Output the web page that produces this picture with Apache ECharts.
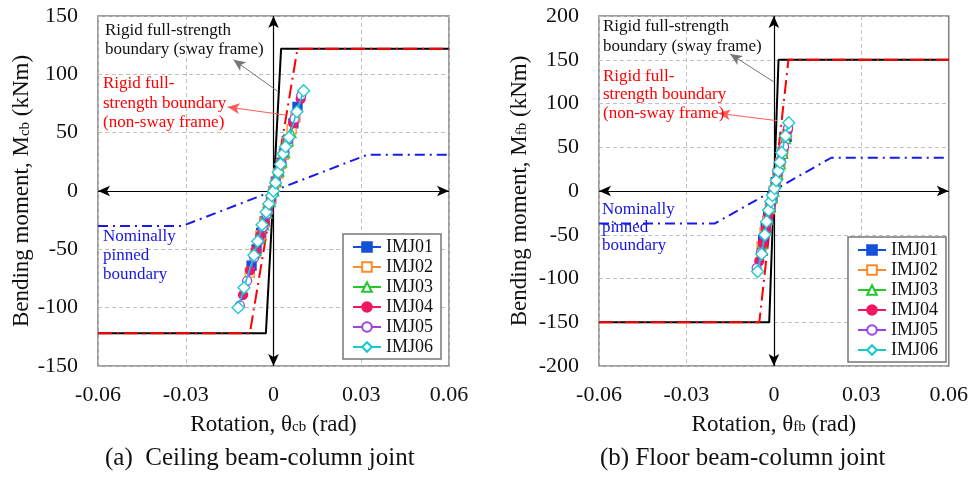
<!DOCTYPE html>
<html><head><meta charset="utf-8">
<script src="https://cdn.jsdelivr.net/npm/echarts@6/dist/echarts.min.js"></script>
<style>html,body{margin:0;padding:0;background:#fff}#c{width:971px;height:477px}</style>
</head><body><div id="c"></div>
<script>
// ---------- data ----------
const xTicks = [-0.06, -0.03, 0, 0.03, 0.06];
const seriesNames = ['IMJ01','IMJ02','IMJ03','IMJ04','IMJ05','IMJ06'];

// (a) ceiling joint: boundaries [rotation, moment]
const ceilSway    = [[-0.06,-122],[-0.0026,-122],[0.0026,122],[0.06,122]];
const ceilNonSway = [[-0.06,-122],[-0.0081,-122],[0.0082,122],[0.06,122]];
const ceilPinned  = [[-0.06,-30],[-0.0312,-30],[0.032,31],[0.06,31]];
// (a) specimens
const ceilIMJ01 = [[-0.0075,-64],[-0.0058,-50],[-0.0042,-36],[-0.0030,-26],[-0.0018,-15],[-0.0008,-7],[0,0],[0.0008,8],[0.0017,16],[0.0026,24],[0.0036,32],[0.0050,44],[0.0068,58],[0.0082,72]];
const ceilIMJ02 = [[-0.0081,-70],[-0.0062,-53],[-0.0045,-38],[-0.0032,-27],[-0.0020,-16],[-0.0009,-7],[0,0],[0.0007,7],[0.0016,15],[0.0025,23],[0.0035,31],[0.0048,42],[0.0062,53],[0.0075,63]];
const ceilIMJ03 = [[-0.0060,-51],[-0.0047,-40],[-0.0034,-29],[-0.0022,-19],[-0.0011,-9],[0,0],[0.0009,9],[0.0018,17],[0.0028,25],[0.0038,33],[0.0050,43],[0.0060,50]];
const ceilIMJ04 = [[-0.0104,-89],[-0.0080,-68],[-0.0060,-51],[-0.0045,-38],[-0.0031,-27],[-0.0019,-16],[-0.0008,-7],[0,0],[0.0008,8],[0.0017,16],[0.0027,24],[0.0037,33],[0.0050,44],[0.0068,58],[0.0093,79]];
const ceilIMJ05 = [[-0.0115,-98],[-0.0090,-77],[-0.0066,-57],[-0.0050,-43],[-0.0037,-31],[-0.0024,-20],[-0.0012,-10],[0,0],[0.0008,8],[0.0017,16],[0.0026,24],[0.0036,32],[0.0050,44],[0.0072,62],[0.0095,82]];
const ceilIMJ06 = [[-0.0121,-100],[-0.0101,-83],[-0.0067,-55],[-0.0054,-43],[-0.0039,-29],[-0.0025,-18],[-0.0016,-11],[-0.0006,-4],[0,0],[0.0007,7],[0.0016,16],[0.0024,23],[0.0033,32],[0.0041,38],[0.0053,46],[0.0080,68],[0.0103,86]];

// (b) floor joint: boundaries
const floorSway    = [[-0.06,-150],[-0.0016,-150],[0.0016,150],[0.06,150]];
const floorNonSway = [[-0.06,-150],[-0.0050,-150],[0.0050,150],[0.06,150]];
const floorPinned  = [[-0.06,-37],[-0.0202,-37],[0.0197,38],[0.06,38]];
// (b) specimens
const floorIMJ01 = [[-0.0037,-56],[-0.0028,-42],[-0.0020,-30],[-0.0012,-18],[-0.0005,-7],[0,0],[0.0006,10],[0.0013,20],[0.0021,31],[0.0030,44],[0.0044,62]];
const floorIMJ02 = [[-0.0042,-63],[-0.0032,-47],[-0.0023,-34],[-0.0014,-21],[-0.0006,-9],[0,0],[0.0006,9],[0.0014,20],[0.0022,32],[0.0032,46],[0.0045,65]];
const floorIMJ03 = [[-0.0040,-60],[-0.0030,-45],[-0.0021,-32],[-0.0012,-18],[-0.0005,-7],[0,0],[0.0006,9],[0.0013,19],[0.0021,31],[0.0030,43],[0.0040,60]];
const floorIMJ04 = [[-0.0050,-80],[-0.0038,-60],[-0.0028,-44],[-0.0018,-28],[-0.0009,-14],[0,0],[0.0007,11],[0.0014,21],[0.0022,33],[0.0033,48],[0.0048,70]];
const floorIMJ05 = [[-0.0059,-88],[-0.0044,-70],[-0.0032,-51],[-0.0022,-35],[-0.0012,-19],[-0.0004,-6],[0,0],[0.0007,11],[0.0015,22],[0.0023,34],[0.0035,51],[0.0049,72]];
const floorIMJ06 = [[-0.0056,-92],[-0.0042,-72],[-0.0031,-50],[-0.0025,-35],[-0.0018,-22],[-0.0011,-12],[-0.0005,-5],[0.0002,3],[0.0008,12],[0.0015,23],[0.0021,33],[0.0027,44],[0.0040,63],[0.0051,78]];

// ---------- styles ----------
const FONT = '"Liberation Serif", "DejaVu Serif", serif';
const specStyle = [
  {color:'#1450d8', symbol:'rect', fill:'#1450d8'},
  {color:'#ff8a2a', symbol:'rect', fill:'#fff'},
  {color:'#22c72a', symbol:'triangle', fill:'#fff'},
  {color:'#f01860', symbol:'circle', fill:'#f01860'},
  {color:'#9a44e0', symbol:'circle', fill:'#fff'},
  {color:'#18c8cc', symbol:'diamond', fill:'#fff'}
];

const chart = echarts.init(document.getElementById('c'), null, {renderer:'canvas'});

function xAxisFor(gi, sub){
  return {
    type:'value', gridIndex:gi, min:-0.06, max:0.06, interval:0.03,
    axisLine:{show:false}, axisTick:{show:false},
    axisLabel:{fontFamily:FONT, fontSize:22, color:'#111', margin:18,
      formatter:v=>Math.abs(v)<1e-9?'0':v.toFixed(2)},
    splitLine:{show:true, lineStyle:{color:'#c0c0c0', type:[4,3], width:1}},
    name:'Rotation, θ{s|'+sub+'} (rad)', nameLocation:'middle', nameGap:47,
    nameTextStyle:{fontFamily:FONT, fontSize:23, color:'#111',
      rich:{s:{fontFamily:FONT, fontSize:15, color:'#111', padding:[6,0,0,0]}}}
  };
}
function yAxisFor(gi, lim, sub, gap){
  return {
    type:'value', gridIndex:gi, min:-lim, max:lim, interval:50,
    axisLine:{show:false}, axisTick:{show:false},
    axisLabel:{fontFamily:FONT, fontSize:22, color:'#111', margin:20},
    splitLine:{show:true, lineStyle:{color:'#c0c0c0', type:[4,3], width:1}},
    name:'Bending moment, M{s|'+sub+'} (kNm)', nameLocation:'middle', nameGap:gap,
    nameTextStyle:{fontFamily:FONT, fontSize:23, color:'#111',
      rich:{s:{fontFamily:FONT, fontSize:15, color:'#111', padding:[6,0,0,0]}}}
  };
}

function boundarySeries(gi, sway, nonsway, pinned, lim, grayArrow, redArrow){
  return [
    {name:'sway', type:'line', xAxisIndex:gi, yAxisIndex:gi, data:sway, showSymbol:false, symbol:'none',
     lineStyle:{color:'#000', width:2}, z:3,
     markLine:{silent:true, animation:false, symbolSize:[8,12], label:{show:false},
       lineStyle:{color:'#000', width:1.2, type:'solid'},
       data:[
         [{coord:[-0.06,0], symbol:'arrow'},{coord:[0.06,0], symbol:'arrow'}],
         [{coord:[0,-lim], symbol:'arrow'},{coord:[0,lim], symbol:'arrow'}],
         [{coord:grayArrow[0], symbol:'none', lineStyle:{color:'#777', width:1}},{coord:grayArrow[1], symbol:'arrow', lineStyle:{color:'#777', width:1}}],
         [{coord:redArrow[0], symbol:'none', lineStyle:{color:'#ff5a5a', width:1}},{coord:redArrow[1], symbol:'arrow', lineStyle:{color:'#ff5a5a', width:1}}]
       ]}},
    {name:'nonsway', type:'line', xAxisIndex:gi, yAxisIndex:gi, data:nonsway, showSymbol:false, symbol:'none',
     lineStyle:{color:'#ff0000', width:2, type:[14,5,2,5]}, z:4},
    {name:'pinned', type:'line', xAxisIndex:gi, yAxisIndex:gi, data:pinned, showSymbol:false, symbol:'none',
     lineStyle:{color:'#1a1ae6', width:2, type:[10,5,2,5]}, z:4}
  ];
}
function specSeries(gi, arrs){
  return arrs.map((d,i)=>({
    name:seriesNames[i], type:'line', xAxisIndex:gi, yAxisIndex:gi, data:d,
    symbol:specStyle[i].symbol, symbolSize:specStyle[i].symbol==='diamond'?12:(specStyle[i].symbol==='triangle'?10:9),
    showAllSymbol:true,
    lineStyle:{color:specStyle[i].color, width:1.6},
    itemStyle:{color:specStyle[i].fill, borderColor:specStyle[i].color, borderWidth:1.3},
    z:5+i
  }));
}

function legendAt(left, top){
  return {
    data:seriesNames, orient:'vertical', left:left, top:top,
    itemWidth:28, itemHeight:12, itemGap:2, padding:[4,8,3,9],
    textStyle:{fontFamily:FONT, fontSize:18, color:'#111'},
    borderColor:'#777', borderWidth:1.5, backgroundColor:'#fff', selectedMode:false
  };
}

function txt(x, y, lines, color, lh){
  return {type:'text', left:x, top:y, z:50,
    style:{text:lines.join('\n'), fill:color, font:'17px '+FONT, lineHeight:lh}};
}

chart.setOption({
  animation:false,
  backgroundColor:'#fff',
  grid:[
    {left:98, top:16, width:351, height:350, show:true, borderColor:'#808080', borderWidth:1.5, backgroundColor:'transparent'},
    {left:599, top:16, width:351, height:350, show:true, borderColor:'#808080', borderWidth:1.5, backgroundColor:'transparent'}
  ],
  xAxis:[xAxisFor(0,'cb'), xAxisFor(1,'fb')],
  yAxis:[yAxisFor(0,150,'cb',64), yAxisFor(1,200,'fb',68)],
  legend:[legendAt(343,234), legendAt(848,237)],
  series:[
    ...boundarySeries(0, ceilSway, ceilNonSway, ceilPinned, 150,
        [[0.0013,85.7],[-0.0137,112.5]], [[0.0044,65],[-0.0157,72]]),
    ...specSeries(0, [ceilIMJ01,ceilIMJ02,ceilIMJ03,ceilIMJ04,ceilIMJ05,ceilIMJ06]),
    ...boundarySeries(1, floorSway, floorNonSway, floorPinned, 200,
        [[0.0,124.6],[-0.015,156.6]], [[0.0013,80.3],[-0.0191,88.8]]),
    ...specSeries(1, [floorIMJ01,floorIMJ02,floorIMJ03,floorIMJ04,floorIMJ05,floorIMJ06])
  ],
  graphic:[
    txt(105, 21, ['Rigid full-strength','boundary (sway frame)'], '#111', 19),
    txt(103, 74, ['Rigid full-','strength boundary','(non-sway frame)'], '#ff0000', 19.5),
    txt(103, 227, ['Nominally','pinned','boundary'], '#1515e0', 19),
    txt(603, 17, ['Rigid full-strength','boundary (sway frame)'], '#111', 20),
    txt(603, 67, ['Rigid full-','strength boundary','(non-sway frame)'], '#ff0000', 18.5),
    txt(602, 201, ['Nominally','pinned','boundary'], '#1515e0', 18),
    {type:'text', top:446, z:50, left:105,
     style:{text:'(a)  Ceiling beam-column joint', fill:'#111', font:'25px '+FONT}},
    {type:'text', top:446, z:50, left:600,
     style:{text:'(b) Floor beam-column joint', fill:'#111', font:'25px '+FONT}}
  ]
});
</script></body></html>
